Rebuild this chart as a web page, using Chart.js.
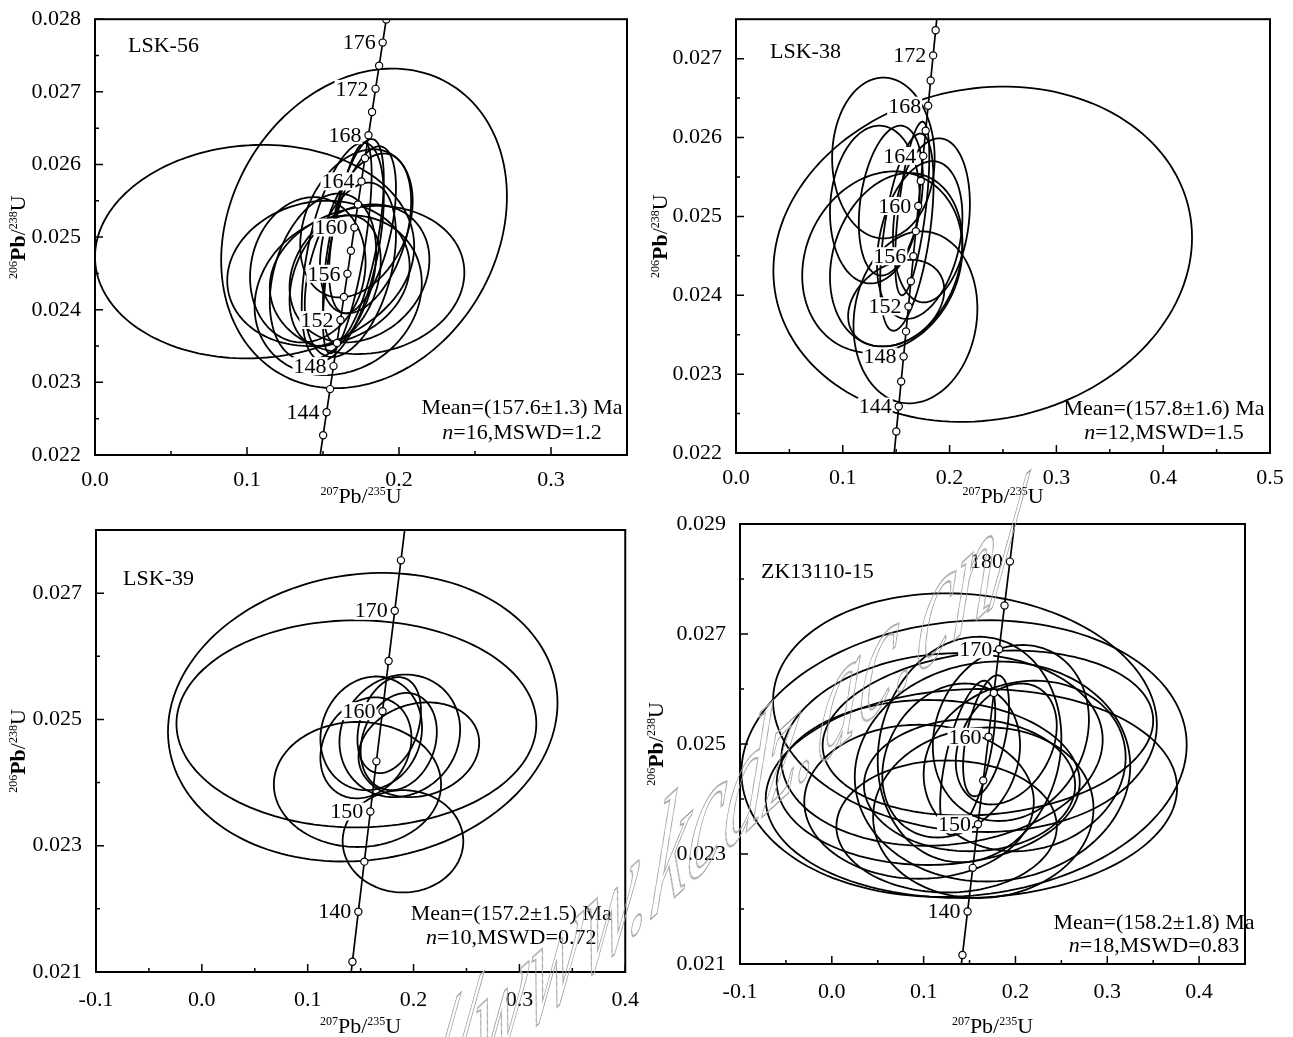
<!DOCTYPE html>
<html>
<head>
<meta charset="utf-8">
<script src="https://cdn.jsdelivr.net/npm/chart.js@4.4.1/dist/chart.umd.min.js"></script>
<style>
  html, body { margin: 0; padding: 0; background: #fff; }
  body { width: 1293px; height: 1037px; position: relative; overflow: hidden; }
  canvas { position: absolute; }
  #wm {
    position: absolute; left: 280px; top: 1119px;
    transform-origin: 0 0;
    transform: matrix(0.737, -0.676, -0.13, 1.494, 0, 0);
    font: italic 112px "Liberation Serif", serif;
    line-height: normal;
    color: transparent;
    -webkit-text-stroke: 1.3px #a6a6a6;
    white-space: nowrap;
    pointer-events: none;
  }
</style>
</head>
<body>
<canvas id="c1" width="646" height="520" style="left:0;top:0"></canvas>
<canvas id="c2" width="647" height="520" style="left:646px;top:0"></canvas>
<canvas id="c3" width="646" height="537" style="left:0;top:500px"></canvas>
<canvas id="c4" width="647" height="537" style="left:646px;top:500px"></canvas>
<div id="wm">http://www.kcdz.ac.cn/</div>

<script>
// ── Concordia points (207Pb/235U, 206Pb/238U) ─────────────────────────────
// pas de 2 Ma (LSK-56, LSK-38)
const AGES_2 = [140, 142, 144, 146, 148, 150, 152, 154, 156, 158, 160, 162, 164, 166, 168, 170, 172, 174, 176, 178, 180];
const C2_X = [0.147837, 0.150100, 0.152367, 0.154639, 0.156917, 0.159193, 0.161482, 0.163773, 0.166067, 0.168366, 0.170669,
              0.172978, 0.175290, 0.177608, 0.179930, 0.182256, 0.184587, 0.186923, 0.189263, 0.191608, 0.193957];
const C2_Y = [0.021955, 0.022272, 0.022589, 0.022907, 0.023224, 0.023542, 0.023859, 0.024177, 0.024495, 0.024813, 0.025131,
              0.025449, 0.025767, 0.026085, 0.026403, 0.026722, 0.027041, 0.027359, 0.027678, 0.027997, 0.028316];
// pas de 5 Ma (LSK-39, ZK13110-15)
const AGES_5 = [130, 135, 140, 145, 150, 155, 160, 165, 170, 175, 180, 185];
const C5_X = [0.136588, 0.142258, 0.147837, 0.153503, 0.159193, 0.164919, 0.170669, 0.176449, 0.182256, 0.188092, 0.193957, 0.199851];
const C5_Y = [0.020371, 0.021163, 0.021955, 0.022748, 0.023542, 0.024336, 0.025131, 0.025926, 0.026722, 0.027519, 0.028316, 0.029114];

// ── Age labels ────────────────────────────────────────────────────────────
const P1_LABELS = [144, 148, 152, 156, 160, 164, 168, 172, 176];
const P2_LABELS = [144, 148, 152, 156, 160, 164, 168, 172];
const P3_LABELS = [140, 150, 160, 170];
const P4_LABELS = [140, 150, 160, 170, 180];

// ── Tick labels ───────────────────────────────────────────────────────────
const P1_XTICKS = [0.0, 0.1, 0.2, 0.3];
const P1_YTICKS = [0.022, 0.023, 0.024, 0.025, 0.026, 0.027, 0.028];
const P2_XTICKS = [0.0, 0.1, 0.2, 0.3, 0.4, 0.5];
const P2_YTICKS = [0.022, 0.023, 0.024, 0.025, 0.026, 0.027];
const P3_XTICKS = [-0.1, 0.0, 0.1, 0.2, 0.3, 0.4];
const P3_YTICKS = [0.021, 0.023, 0.025, 0.027];
const P4_XTICKS = [-0.1, 0.0, 0.1, 0.2, 0.3, 0.4];
const P4_YTICKS = [0.021, 0.023, 0.025, 0.027, 0.029];

// ── Error ellipses: [x centre, y centre, x half-extent, y half-extent, rho] ──
const P1_ELLIPSES = [
  [0.105, 0.02480, 0.105, 0.00147, 0.05],
  [0.177, 0.02512, 0.094, 0.00220, 0.20],
  [0.179, 0.02441, 0.064, 0.00102, 0.10],
  [0.147, 0.02450, 0.060, 0.00100, 0.10],
  [0.160, 0.02420, 0.055, 0.00110, 0.15],
  [0.172, 0.02519, 0.037, 0.00102, 0.30],
  [0.174, 0.02450, 0.046, 0.00095, 0.20],
  [0.170, 0.02495, 0.020, 0.00140, 0.60],
  [0.166, 0.02485, 0.016, 0.00145, 0.70],
  [0.163, 0.02480, 0.027, 0.00150, 0.50],
  [0.150, 0.02445, 0.035, 0.00115, 0.30],
  [0.140, 0.02455, 0.038, 0.00100, 0.10],
  [0.176, 0.02510, 0.022, 0.00115, 0.50],
  [0.158, 0.02440, 0.030, 0.00090, 0.30],
  [0.168, 0.02455, 0.030, 0.00120, 0.40],
  [0.178, 0.02505, 0.030, 0.00110, 0.40],
];
const P2_ELLIPSES = [
  [0.231, 0.02452, 0.196, 0.002125, 0.10],
  [0.138, 0.02574, 0.048, 0.00102, 0.00],
  [0.137, 0.02442, 0.075, 0.00115, 0.15],
  [0.150, 0.02445, 0.062, 0.00110, 0.20],
  [0.130, 0.02515, 0.042, 0.00100, 0.10],
  [0.168, 0.02372, 0.058, 0.00109, 0.10],
  [0.183, 0.02495, 0.036, 0.00104, 0.20],
  [0.165, 0.02510, 0.016, 0.00110, 0.60],
  [0.160, 0.02480, 0.025, 0.00125, 0.50],
  [0.150, 0.02390, 0.045, 0.00055, 0.30],
  [0.172, 0.02470, 0.040, 0.00100, 0.30],
  [0.145, 0.02520, 0.030, 0.00095, 0.30],
];
const P3_ELLIPSES = [
  [0.152, 0.025035, 0.184, 0.002285, 0.10],
  [0.146, 0.02493, 0.170, 0.00164, 0.00],
  [0.147, 0.02397, 0.079, 0.00099, 0.00],
  [0.190, 0.02307, 0.057, 0.00081, 0.00],
  [0.205, 0.02452, 0.057, 0.00075, 0.15],
  [0.160, 0.02478, 0.048, 0.00090, 0.10],
  [0.187, 0.02474, 0.057, 0.00097, 0.10],
  [0.186, 0.02465, 0.036, 0.00077, 0.20],
  [0.177, 0.02491, 0.030, 0.00076, 0.30],
  [0.155, 0.02455, 0.043, 0.00080, 0.20],
];
const P4_ELLIPSES = [
  [0.145, 0.02557, 0.209, 0.00217, -0.10],
  [0.144, 0.024735, 0.2425, 0.002515, 0.10],
  [0.152, 0.02410, 0.224, 0.00190, 0.05],
  [0.170, 0.02520, 0.180, 0.00150, 0.15],
  [0.120, 0.02490, 0.175, 0.00175, 0.10],
  [0.105, 0.02430, 0.165, 0.00150, 0.00],
  [0.175, 0.02450, 0.150, 0.00200, 0.05],
  [0.095, 0.02395, 0.125, 0.00140, 0.00],
  [0.165, 0.02375, 0.120, 0.00155, 0.05],
  [0.150, 0.02490, 0.100, 0.00205, 0.10],
  [0.195, 0.02520, 0.085, 0.00160, 0.15],
  [0.130, 0.02470, 0.075, 0.00140, 0.20],
  [0.190, 0.02500, 0.055, 0.00110, 0.30],
  [0.150, 0.02425, 0.115, 0.00120, 0.00],
  [0.148, 0.02475, 0.030, 0.00140, 0.60],
  [0.168, 0.02515, 0.025, 0.00110, 0.50],
  [0.125, 0.02350, 0.120, 0.00120, 0.00],
  [0.210, 0.02460, 0.110, 0.00155, 0.10],
];

const FONT = '"Liberation Serif", "Times New Roman", serif';
const FS = 22;

// texte composé (exposants, italique, gras)
function drawParts(ctx, x, y, parts) {
  const fontOf = p => (p.i ? 'italic ' : '') + (p.b ? 'bold ' : '') + (p.sup ? 12 : FS) + 'px ' + FONT;
  let total = 0;
  parts.forEach(p => { ctx.font = fontOf(p); total += ctx.measureText(p.t).width; });
  let cx = x - total / 2;
  ctx.textAlign = 'left';
  ctx.textBaseline = 'alphabetic';
  parts.forEach(p => {
    ctx.font = fontOf(p);
    ctx.fillText(p.t, cx, p.sup ? y - 8 : y);
    cx += ctx.measureText(p.t).width;
  });
}

function minorTicks(major, min, max) {
  const step = major[1] - major[0];
  const out = [];
  const eps = step * 1e-3;
  for (let i = -1; i < major.length; i++) {
    const v = (i < 0 ? major[0] - step : major[i]) + step / 2;
    if (v > min + eps && v < max - eps) out.push(v);
  }
  return out;
}

function makePanel(p) {
  const decoPlugin = {
    id: 'deco',
    beforeDatasetsDraw(chart) {
      const { ctx, chartArea: a, scales: { x, y } } = chart;
      ctx.save();
      ctx.beginPath();
      ctx.rect(a.left, a.top, a.right - a.left, a.bottom - a.top);
      ctx.clip();
      ctx.strokeStyle = '#000';
      ctx.lineWidth = 1.8;
      p.ellipses.forEach(([ex, ey, rx, ry, rho]) => {
        const k = Math.sqrt(1 - rho * rho);
        ctx.beginPath();
        for (let i = 0; i <= 160; i++) {
          const t = (i / 160) * 2 * Math.PI;
          const px = x.getPixelForValue(ex + rx * Math.cos(t));
          const py = y.getPixelForValue(ey + ry * (rho * Math.cos(t) + k * Math.sin(t)));
          if (i === 0) ctx.moveTo(px, py); else ctx.lineTo(px, py);
        }
        ctx.closePath();
        ctx.stroke();
      });
      ctx.restore();
    },
    afterDatasetsDraw(chart) {
      const { ctx, chartArea: a, scales: { x, y } } = chart;
      ctx.save();
      // étiquettes d'âge
      ctx.font = FS + 'px ' + FONT;
      p.labels.forEach(age => {
        const i = p.ages.indexOf(age);
        const px = x.getPixelForValue(p.cx[i]);
        const py = y.getPixelForValue(p.cy[i]);
        const txt = String(age);
        const w = ctx.measureText(txt).width;
        ctx.fillStyle = '#fff';
        ctx.fillRect(px - 7 - w - 1, py - 9, w + 2, 18);
        ctx.fillStyle = '#000';
        ctx.textAlign = 'right';
        ctx.textBaseline = 'middle';
        ctx.fillText(txt, px - 7, py + 1);
      });

      // cadre + graduations vers l'intérieur
      ctx.strokeStyle = '#000';
      ctx.lineWidth = 2;
      ctx.strokeRect(a.left, a.top, a.right - a.left, a.bottom - a.top);
      ctx.lineWidth = 1.5;
      ctx.beginPath();
      p.xTicks.forEach(v => { const px = x.getPixelForValue(v); ctx.moveTo(px, a.bottom); ctx.lineTo(px, a.bottom - 8); });
      minorTicks(p.xTicks, p.xMin, p.xMax).forEach(v => { const px = x.getPixelForValue(v); ctx.moveTo(px, a.bottom); ctx.lineTo(px, a.bottom - 4); });
      p.yTicks.forEach(v => { const py = y.getPixelForValue(v); ctx.moveTo(a.left, py); ctx.lineTo(a.left + 8, py); });
      minorTicks(p.yTicks, p.yMin, p.yMax).forEach(v => { const py = y.getPixelForValue(v); ctx.moveTo(a.left, py); ctx.lineTo(a.left + 4, py); });
      ctx.stroke();

      // nom de l'échantillon
      ctx.fillStyle = '#000';
      ctx.font = FS + 'px ' + FONT;
      ctx.textAlign = 'left';
      ctx.textBaseline = 'middle';
      ctx.fillText(p.name, a.left + p.nameOff[0], a.top + p.nameOff[1]);

      // moyenne
      const mx = a.right - p.meanOff[0];
      drawParts(ctx, mx, a.bottom - p.meanOff[1] + 7, [{ t: p.mean }]);
      drawParts(ctx, mx, a.bottom - p.meanOff[2] + 7, [{ t: 'n', i: true }, { t: p.stats }]);

      // titres des axes
      drawParts(ctx, (a.left + a.right) / 2, a.bottom + p.xTitleDy + 7,
        [{ t: '207', sup: true }, { t: 'Pb/' }, { t: '235', sup: true }, { t: 'U' }]);
      ctx.translate(p.yTitleX + 7, (a.top + a.bottom) / 2);
      ctx.rotate(-Math.PI / 2);
      drawParts(ctx, 0, 0, [{ t: '206', sup: true }, { t: 'Pb', b: true }, { t: '/' }, { t: '238', sup: true }, { t: 'U' }]);
      ctx.restore();
    },
  };

  new Chart(document.getElementById(p.id), {
    type: 'scatter',
    plugins: [decoPlugin],
    data: {
      datasets: [{
        data: p.ages.map((age, i) => ({ x: p.cx[i], y: p.cy[i] })),
        showLine: true,
        borderColor: '#000',
        borderWidth: 1.7,
        pointRadius: 3.6,
        pointBackgroundColor: '#fff',
        pointBorderColor: '#000',
        pointBorderWidth: 1.2,
        tension: 0,
      }],
    },
    options: {
      responsive: false,
      animation: false,
      events: [],
      layout: { padding: { left: 0, top: p.padTop, right: p.padRight, bottom: 0 } },
      plugins: { legend: { display: false }, tooltip: { enabled: false } },
      scales: {
        x: {
          type: 'linear', min: p.xMin, max: p.xMax,
          grid: { display: false }, border: { display: false },
          ticks: { color: '#000', padding: p.xPad, maxRotation: 0, font: { family: FONT, size: FS }, callback: v => v.toFixed(1) },
          afterBuildTicks: s => { s.ticks = p.xTicks.map(v => ({ value: v })); },
          afterFit: s => { s.height = p.xH; },
        },
        y: {
          type: 'linear', min: p.yMin, max: p.yMax,
          grid: { display: false }, border: { display: false },
          ticks: { color: '#000', padding: 6, font: { family: FONT, size: FS }, callback: v => v.toFixed(3) },
          afterBuildTicks: s => { s.ticks = p.yTicks.map(v => ({ value: v })); },
          afterFit: s => { s.width = p.yW; },
        },
      },
    },
  });
}

makePanel({
  id: 'c1', yW: 95, xH: 65, padTop: 15, padRight: 19, xPad: 4,
  xMin: 0, xMax: 0.35, yMin: 0.022, yMax: 0.028, xTicks: P1_XTICKS, yTicks: P1_YTICKS,
  ages: AGES_2, cx: C2_X, cy: C2_Y, labels: P1_LABELS, ellipses: P1_ELLIPSES,
  name: 'LSK-56', nameOff: [33, 27],
  mean: 'Mean=(157.6±1.3) Ma', stats: '=16,MSWD=1.2', meanOff: [105, 48, 23],
  xTitleDy: 41, yTitleX: 18,
});
makePanel({
  id: 'c2', yW: 90, xH: 67, padTop: 13, padRight: 23, xPad: 4,
  xMin: 0, xMax: 0.5, yMin: 0.022, yMax: 0.0275, xTicks: P2_XTICKS, yTicks: P2_YTICKS,
  ages: AGES_2, cx: C2_X, cy: C2_Y, labels: P2_LABELS, ellipses: P2_ELLIPSES,
  name: 'LSK-38', nameOff: [34, 33],
  mean: 'Mean=(157.8±1.6) Ma', stats: '=12,MSWD=1.5', meanOff: [106, 45, 21],
  xTitleDy: 43, yTitleX: 14,
});
makePanel({
  id: 'c3', yW: 96, xH: 65, padTop: 30, padRight: 20, xPad: 7,
  xMin: -0.1, xMax: 0.4, yMin: 0.021, yMax: 0.028, xTicks: P3_XTICKS, yTicks: P3_YTICKS,
  ages: AGES_5, cx: C5_X, cy: C5_Y, labels: P3_LABELS, ellipses: P3_ELLIPSES,
  name: 'LSK-39', nameOff: [27, 49],
  mean: 'Mean=(157.2±1.5) Ma', stats: '=10,MSWD=0.72', meanOff: [114, 59, 35],
  xTitleDy: 54, yTitleX: 18,
});
makePanel({
  id: 'c4', yW: 94, xH: 73, padTop: 24, padRight: 48, xPad: 7,
  xMin: -0.1, xMax: 0.45, yMin: 0.021, yMax: 0.029, xTicks: P4_XTICKS, yTicks: P4_YTICKS,
  ages: AGES_5, cx: C5_X, cy: C5_Y, labels: P4_LABELS, ellipses: P4_ELLIPSES,
  name: 'ZK13110-15', nameOff: [21, 48],
  mean: 'Mean=(158.2±1.8) Ma', stats: '=18,MSWD=0.83', meanOff: [91, 42, 19],
  xTitleDy: 62, yTitleX: 10,
});
</script>
</body>
</html>
